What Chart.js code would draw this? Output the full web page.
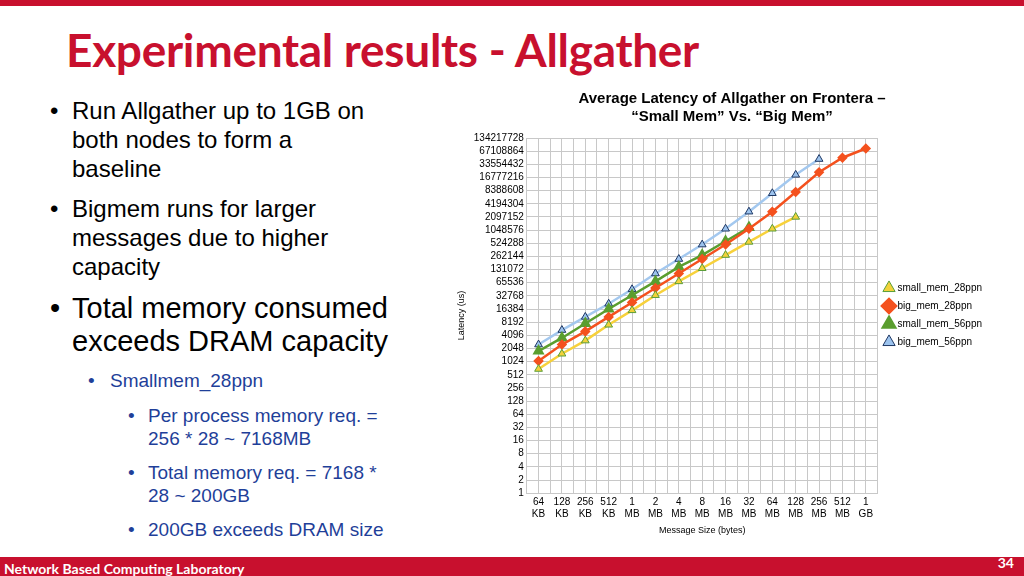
<!DOCTYPE html>
<html><head><meta charset="utf-8">
<script src="https://cdn.jsdelivr.net/npm/chart.js@4/dist/chart.umd.min.js"></script>
<style>
body{margin:0;width:1024px;height:576px;position:relative;overflow:hidden;background:#fff;font-family:"Liberation Sans",Arial,sans-serif}
#topbar{position:absolute;left:0;top:0;width:1024px;height:6px;background:#c8102e}
#title{position:absolute;left:66px;top:22px;font-family:Lato,"Open Sans",sans-serif;font-weight:bold;font-size:46px;color:#c8102e;letter-spacing:-0.3px}
#bottom{position:absolute;left:0;top:557px;width:1024px;height:19px;background:#c8102e;color:#fff;font-family:Lato,sans-serif;font-weight:bold}
#bottom .l{position:absolute;left:4px;top:3px;font-size:14px}
#bottom .r{position:absolute;right:10px;top:-3px;font-size:14px}
#text{position:absolute;left:50px;top:96px;width:324px}
.b1{position:relative;padding-left:22px;font-size:24px;line-height:29px;color:#000;margin-bottom:11px}
.b1:before{content:"•";position:absolute;left:0}
.b2{position:relative;padding-left:60px;font-size:19px;line-height:24px;color:#1f3f99;margin-bottom:11px}
.b2:before{content:"•";position:absolute;left:38px}
.b3{position:relative;padding-left:98px;font-size:19px;line-height:23px;color:#1f3f99;margin-bottom:11px}
.b3:before{content:"•";position:absolute;left:78px}
#wrap{position:absolute;left:452px;top:90px;width:572px;height:450px}
</style></head><body>
<div id="topbar"></div>
<div id="title">Experimental results - Allgather</div>
<div id="text">
<div class="b1">Run Allgather up to 1GB on both nodes to form a baseline</div>
<div class="b1">Bigmem runs for larger messages due to higher capacity</div>
<div class="b1" style="font-size:29px;line-height:33px;width:340px">Total memory consumed exceeds DRAM capacity</div>
<div class="b2">Smallmem_28ppn</div>
<div class="b3" style="width:250px">Per process memory req. = 256 * 28 ~ 7168MB</div>
<div class="b3" style="width:250px">Total memory req. = 7168 * 28 ~ 200GB</div>
<div class="b3" style="width:300px">200GB exceeds DRAM size</div>
</div>
<div id="wrap"><canvas id="c"></canvas></div>
<div id="bottom"><span class="l">Network Based Computing Laboratory</span><span class="r">34</span></div>
<script>
const categories=["64 KB","128 KB","256 KB","512 KB","1 MB","2 MB","4 MB","8 MB","16 MB","32 MB","64 MB","128 MB","256 MB","512 MB","1 GB"];
const smallMem28=[695,1552,3104,7132,15287,33920,70240,140500,281000,562000,1124000,2097000];
const bigMem28=[1060,2521,5042,10809,23170,49660,106400,228100,488900,1124000,2767000,7825000,22140000,47450000,77070000];
const smallMem56=[1783,3566,7643,16384,33920,70240,150600,281000,582000,1204000];
const bigMem56=[2521,5405,10809,21619,46340,106400,228100,488900,1124000,2767000,7301000,19270000,44270000];
const yTicks=[];for(let i=0;i<=27;i++)yTicks.push(Math.pow(2,i));
const pts=a=>a.map((v,i)=>({x:i,y:v}));
const F="'Liberation Sans',Arial,sans-serif";
new Chart(document.getElementById('c'),{type:'line',
data:{datasets:[
{label:'small_mem_28ppn',data:pts(smallMem28),borderColor:'#f7d13b',backgroundColor:'#f2d23a',pointBorderColor:'#5a9e3a',pointBorderWidth:1,pointStyle:'triangle',pointRadius:4.5,borderWidth:2.5},
{label:'big_mem_28ppn',data:pts(bigMem28),borderColor:'#f4511e',backgroundColor:'#f4511e',pointBorderColor:'#f4511e',pointStyle:'rectRot',pointRadius:3.5,borderWidth:2.5},
{label:'small_mem_56ppn',data:pts(smallMem56),borderColor:'#5a9e2f',backgroundColor:'#5a9e2f',pointBorderColor:'#5a9e2f',pointStyle:'triangle',pointRadius:4.5,borderWidth:2.5},
{label:'big_mem_56ppn',data:pts(bigMem56),borderColor:'#a3c8ef',backgroundColor:'#9cc3ee',pointBorderColor:'#1f3864',pointBorderWidth:1,pointStyle:'triangle',pointRadius:4.5,borderWidth:2.5}
]},
options:{responsive:true,maintainAspectRatio:false,animation:false,
layout:{padding:{top:0,right:12,bottom:0,left:0}},
plugins:{title:{display:true,text:['Average Latency of Allgather on Frontera –','“Small Mem” Vs. “Big Mem”'],font:{family:F,size:15,weight:'bold'},color:'#000',padding:{top:0,bottom:12},lineHeight:1.2},
legend:{position:'right',labels:{usePointStyle:true,boxWidth:7,font:{family:F,size:10},color:'#000',padding:8},
 afterFit:null},tooltip:{enabled:false}},
scales:{
x:{type:'linear',min:-0.5,max:categories.length-0.5,
ticks:{stepSize:0.5,autoSkip:false,maxRotation:0,font:{family:F,size:10},color:'#000',callback:v=>Number.isInteger(v)?categories[v].split(' '):''},
grid:{color:'#c8c8c8',drawTicks:false},border:{color:'#c8c8c8'},
title:{display:true,text:'Message Size (bytes)',font:{family:F,size:9},color:'#000',padding:{top:2}}},
y:{type:'logarithmic',min:1,max:134217728,afterBuildTicks:s=>{s.ticks=yTicks.map(v=>({value:v}));},
ticks:{autoSkip:false,font:{family:F,size:10},color:'#000',callback:v=>String(v)},
grid:{color:'#c8c8c8',drawTicks:false},border:{color:'#c8c8c8'},
title:{display:true,text:'Latency (us)',font:{family:F,size:9},color:'#000'}}}},
plugins:[{id:'legW',beforeInit(c){const o=c.legend&&c.legend.fit;}} ,{id:'legFit',afterInit(c){const l=c.legend;const f=l.fit;l.fit=function(){f.call(this);this.width+=20;};}}]});
</script>
</body></html>
